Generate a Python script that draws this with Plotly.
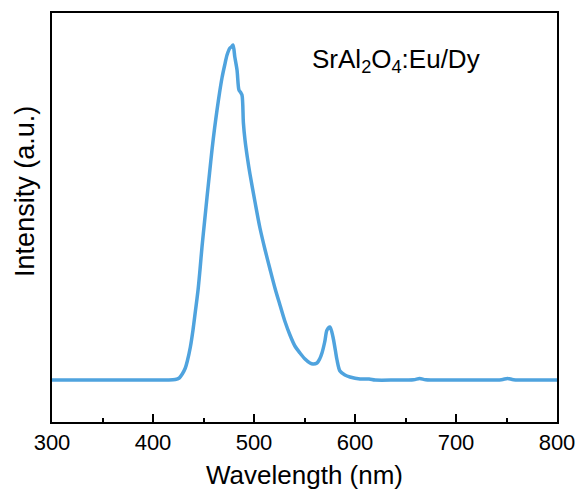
import plotly.graph_objects as go

wavelength = [300, 350, 400, 415, 422, 426, 429, 432, 434, 437, 439.6, 442, 444.6, 446.5, 448.5, 451, 453.5,
              456, 458.4, 461, 463.4, 466, 468.3, 471, 473.3, 476.2, 477.5, 479.2, 481, 483.2, 485.1,
              486.5, 488.1, 489.5, 491.1, 493.5, 496, 501, 505.9, 511, 515.8, 521, 525.7, 530.5, 535.6,
              540.5, 545.5, 550.5, 555.4, 558.4, 562.4, 565, 567.3, 570, 572.3, 575.2, 578.2, 580.5,
              582.2, 585.1, 590, 595, 605, 614, 620, 640, 658, 664, 670, 690, 720, 745, 751, 757, 780, 800]
intensity = [0, 0, 0, 0, 0.5, 2, 6, 12, 19, 33, 50, 69, 90, 110, 133, 158, 183,
             207, 230, 252, 270, 288, 302, 315, 325, 332, 333, 335, 323, 310, 290,
             288, 285, 257, 240, 222, 206, 178, 152, 130, 111, 91, 75, 59, 45,
             34, 27, 21, 17, 16, 17, 21, 27, 38, 50, 53, 43, 30,
             20, 9, 5, 3, 1, 1, 0, 0, 0.3, 1.5, 0.3, 0, 0, 0.3, 1.5, 0.3, 0, 0]

fig = go.Figure()
fig.add_trace(go.Scatter(
    x=wavelength, y=intensity, mode="lines",
    line=dict(color="rgb(79,163,222)", width=3.5, shape="spline", smoothing=0.8),
    showlegend=False,
))

fig.update_layout(
    width=579, height=493,
    margin=dict(l=52, r=22, t=13, b=71),
    paper_bgcolor="white", plot_bgcolor="white",
    font=dict(family="Liberation Sans, Arial, sans-serif", color="black"),
    xaxis=dict(
        range=[300, 800], tickvals=[300, 400, 500, 600, 700, 800], automargin=False,
        ticks="inside", ticklen=8, tickwidth=1.5, tickcolor="black",
        minor=dict(tickvals=[350, 450, 550, 650, 750], ticks="inside", ticklen=4, tickwidth=1.5, tickcolor="black"),
        showline=True, linecolor="black", linewidth=1.5, mirror=True,
        showgrid=False, zeroline=False,
        tickfont=dict(size=22),
        title=dict(text="Wavelength (nm)", font=dict(size=26), standoff=12),
    ),
    yaxis=dict(
        range=[-42, 367], automargin=False,
        showticklabels=False, ticks="",
        showline=True, linecolor="black", linewidth=1.5, mirror=True,
        showgrid=False, zeroline=False,
    ),
    annotations=[
        dict(text="SrAl<sub>2</sub>O<sub>4</sub>:Eu/Dy", x=0.851, y=0.885, xref="paper", yref="paper",
             xanchor="right", yanchor="middle", showarrow=False, font=dict(size=26)),
        dict(text="Intensity (a.u.)", x=-0.0535, y=0.565, xref="paper", yref="paper",
             xanchor="center", yanchor="middle", textangle=-90, showarrow=False, font=dict(size=27)),
    ],
)

fig.write_html("out.html")
